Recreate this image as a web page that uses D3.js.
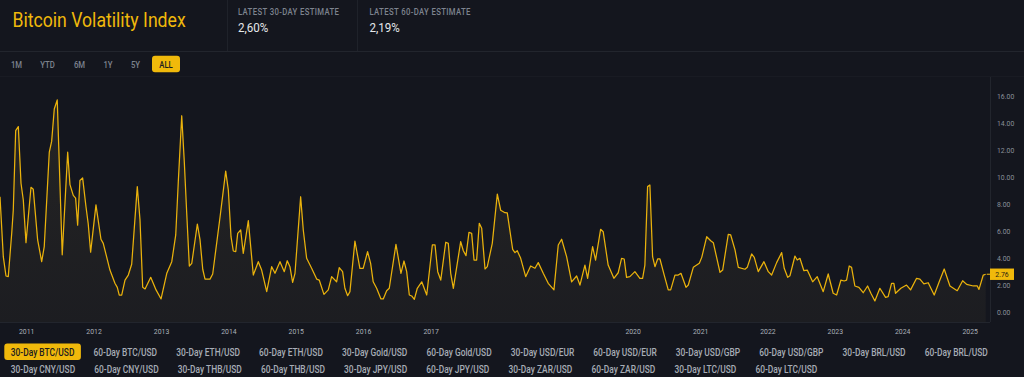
<!DOCTYPE html>
<html><head><meta charset="utf-8">
<script src="https://cdn.jsdelivr.net/npm/d3@7"></script>
<style>html,body{margin:0;padding:0;background:#14161e;overflow:hidden}</style>
</head><body><svg id="c" width="1024" height="377"></svg>
<script>
// ---- data (decimal year, 30-day volatility %) ----
const years = [2010.611,2010.660,2010.700,2010.734,2010.785,2010.808,2010.844,2010.883,2010.923,2010.957,2010.997,2011.071,2011.105,2011.170,2011.230,2011.268,2011.343,2011.378,2011.417,2011.461,2011.535,2011.616,2011.650,2011.699,2011.734,2011.764,2011.798,2011.838,2011.887,2011.921,2011.957,2012.036,2012.110,2012.144,2012.243,2012.317,2012.352,2012.381,2012.417,2012.466,2012.515,2012.565,2012.648,2012.688,2012.728,2012.763,2012.847,2012.926,2013.000,2013.085,2013.159,2013.218,2013.257,2013.307,2013.346,2013.381,2013.420,2013.456,2013.539,2013.579,2013.619,2013.653,2013.727,2013.767,2013.876,2013.960,2013.999,2014.039,2014.073,2014.109,2014.138,2014.183,2014.221,2014.296,2014.370,2014.444,2014.494,2014.569,2014.643,2014.692,2014.766,2014.830,2014.874,2014.914,2014.954,2014.989,2015.073,2015.112,2015.162,2015.236,2015.311,2015.349,2015.419,2015.483,2015.533,2015.607,2015.646,2015.696,2015.730,2015.771,2015.805,2015.879,2015.953,2016.002,2016.067,2016.112,2016.150,2016.201,2016.265,2016.299,2016.349,2016.388,2016.487,2016.561,2016.606,2016.646,2016.685,2016.720,2016.759,2016.803,2016.869,2016.943,2017.026,2017.066,2017.106,2017.151,2017.225,2017.263,2017.299,2017.338,2017.447,2017.486,2017.526,2017.570,2017.610,2017.645,2017.684,2017.723,2017.759,2017.808,2017.842,2017.916,2017.991,2018.041,2018.105,2018.139,2018.219,2018.253,2018.287,2018.338,2018.412,2018.486,2018.550,2018.599,2018.673,2018.747,2018.832,2018.896,2018.946,2019.020,2019.094,2019.169,2019.218,2019.292,2019.332,2019.406,2019.450,2019.525,2019.563,2019.637,2019.722,2019.786,2019.836,2019.875,2019.910,2019.959,2020.034,2020.108,2020.148,2020.182,2020.222,2020.256,2020.296,2020.331,2020.371,2020.405,2020.468,2020.528,2020.564,2020.627,2020.676,2020.716,2020.791,2020.825,2020.899,2020.988,2021.024,2021.098,2021.157,2021.196,2021.295,2021.335,2021.418,2021.454,2021.518,2021.567,2021.666,2021.700,2021.765,2021.804,2021.863,2021.948,2022.012,2022.062,2022.136,2022.211,2022.249,2022.300,2022.334,2022.408,2022.442,2022.482,2022.541,2022.591,2022.671,2022.739,2022.828,2022.902,2022.976,2023.027,2023.091,2023.140,2023.175,2023.214,2023.249,2023.298,2023.358,2023.422,2023.487,2023.536,2023.595,2023.669,2023.754,2023.792,2023.843,2023.877,2023.902,2023.981,2024.065,2024.125,2024.214,2024.263,2024.322,2024.386,2024.475,2024.549,2024.623,2024.708,2024.816,2024.896,2024.956,2025.054,2025.113,2025.138,2025.202,2025.238];
const vol30 = [8.5,4.06,2.63,2.58,5.8,7.5,13.4,13.7,9.5,8.26,5.1,9.2,9.05,5.3,3.7,4.8,11.8,12.6,15.0,15.67,4.2,11.8,9.4,8.6,8.4,6.4,9.7,9.9,7.8,6.5,4.4,7.9,5.35,5.05,3.07,2.09,1.79,1.22,1.22,2.33,2.7,3.5,9.25,6.8,1.79,1.67,2.53,1.6,0.93,2.83,3.69,5.67,9.7,14.5,11.0,7.3,3.37,3.57,6.48,5.3,3.13,2.4,2.4,2.78,7.0,10.4,9.0,5.54,4.48,4.43,5.79,6.04,4.3,6.73,2.7,3.69,3.07,1.47,3.32,2.83,3.69,2.95,3.76,3.32,2.16,2.83,8.5,6.04,3.94,3.2,2.4,2.33,1.27,1.6,2.58,2.2,3.25,2.95,1.72,1.17,1.47,5.22,3.2,3.2,4.43,3.57,2.2,1.72,0.93,0.93,1.54,1.72,4.98,2.83,3.74,2.95,1.22,1.15,0.9,1.72,2.2,1.22,4.93,4.93,2.95,2.33,5.13,5.05,2.83,1.72,5.17,4.5,4.14,5.87,5.79,3.81,3.81,6.53,6.16,3.15,3.32,5.05,8.7,7.5,7.32,7.3,4.6,4.36,4.5,3.94,2.58,3.37,3.2,3.62,2.83,2.09,1.6,4.93,5.35,4.06,2.2,2.63,1.96,3.44,2.46,4.8,3.81,6.09,5.91,3.44,2.46,2.87,3.94,3.89,2.53,2.58,2.95,2.46,2.46,3.44,9.25,9.37,4.06,3.32,3.89,3.89,2.7,1.6,1.6,2.7,2.7,2.83,1.79,1.96,3.27,3.57,4.01,5.54,5.24,5.1,2.9,3.07,5.72,5.67,4.56,3.27,3.13,3.27,4.26,4.01,2.95,3.69,2.95,2.7,3.62,4.36,3.2,2.53,2.65,4.11,3.81,3.94,3.02,3.07,2.2,2.58,1.47,2.78,1.35,1.22,2.33,2.26,2.33,3.37,3.27,1.89,1.79,1.39,1.89,1.35,0.78,1.72,1.05,1.1,2.09,2.09,1.35,1.72,1.96,1.6,2.46,2.4,2.04,2.13,1.22,2.2,3.15,1.89,1.54,2.28,2.01,1.89,1.89,1.64,2.7,2.76];
const xTickYears = [2011,2012,2013,2014,2015,2016,2017,2020,2021,2022,2023,2024,2025];
const yTicks = [0,2,4,6,8,10,12,14,16];
const rangeButtons = ["1M","YTD","6M","1Y","5Y","ALL"];
const activeRange = "ALL";
const estimateLabels = ["LATEST 30-DAY ESTIMATE","LATEST 60-DAY ESTIMATE"];
const estimateValues = ["2,60%","2,19%"];
const tabsRow1 = ["30-Day BTC/USD","60-Day BTC/USD","30-Day ETH/USD","60-Day ETH/USD","30-Day Gold/USD","60-Day Gold/USD","30-Day USD/EUR","60-Day USD/EUR","30-Day USD/GBP","60-Day USD/GBP","30-Day BRL/USD","60-Day BRL/USD"];
const tabsRow2 = ["30-Day CNY/USD","60-Day CNY/USD","30-Day THB/USD","60-Day THB/USD","30-Day JPY/USD","60-Day JPY/USD","30-Day ZAR/USD","60-Day ZAR/USD","30-Day LTC/USD","60-Day LTC/USD"];
const activeTab = "30-Day BTC/USD";
const title = "Bitcoin Volatility Index";

// ---- helpers ----
const toDate = t => { const y = Math.floor(t); const s = Date.UTC(y,0,1), e = Date.UTC(y+1,0,1); return new Date(s + (t-y)*(e-s)); };
const data = years.map((t,i)=>({date: toDate(t), v: vol30[i]}));
const GOLD = "#f0b90b", FONT = "Roboto, 'Noto Sans', sans-serif";
function cond(sel, f){ sel.each(function(){ const w=this.getComputedTextLength(); d3.select(this).attr("textLength", w*f).attr("lengthAdjust","spacingAndGlyphs"); }); }

const svg = d3.select("#c");
svg.append("rect").attr("width",1024).attr("height",377).attr("fill","#14161e");

// ---- header ----
const hdr = svg.append("g");
hdr.append("line").attr("x1",0).attr("x2",1024).attr("y1",51.5).attr("y2",51.5).attr("stroke","#22252d");
[227.5,357.5].forEach(x=>hdr.append("line").attr("x1",x).attr("x2",x).attr("y1",0).attr("y2",51).attr("stroke","#1f222a"));
hdr.append("text").attr("x",12.5).attr("y",26.5).attr("fill",GOLD).attr("font-family",FONT).attr("font-size",20.5).text(title).call(cond,0.86);
estimateLabels.forEach((l,i)=>{
  const x = [238,369.5][i];
  hdr.append("text").attr("x",x).attr("y",15).attr("fill","#7d838e").attr("font-family",FONT).attr("font-weight",500).attr("font-size",8.6).attr("letter-spacing",0.4).text(l).call(cond,0.9);
  hdr.append("text").attr("x",x).attr("y",31.5).attr("fill","#e6e8ea").attr("font-family",FONT).attr("font-size",13.5).text(estimateValues[i]).call(cond,0.86);
});
svg.append("line").attr("x1",0).attr("x2",1024).attr("y1",76.5).attr("y2",76.5).attr("stroke","#191b23");

// range buttons
const btnCenters = [16.5,47.5,79.5,108,135.5,166];
rangeButtons.forEach((b,i)=>{
  const g = svg.append("g");
  if(b===activeRange) g.append("rect").attr("x",btnCenters[i]-14).attr("y",55.7).attr("width",28).attr("height",16.6).attr("rx",3).attr("fill",GOLD);
  g.append("text").attr("x",btnCenters[i]).attr("y",67.6).attr("text-anchor","middle").attr("fill",b===activeRange?"#1a1b20":"#7d838e")
   .attr("font-family",FONT).attr("font-weight",500).attr("font-size",8.6).text(b).call(cond,0.9);
});

// ---- chart ----
const x = d3.scaleUtc().domain([toDate(2010.611), toDate(2025.302)]).range([0,990]);
const y = d3.scaleLinear().domain([0,16]).range([311.5,95.5]);

const defs = svg.append("defs");
const grad = defs.append("linearGradient").attr("id","fillg").attr("x1",0).attr("x2",0).attr("y1",0).attr("y2",1);
grad.append("stop").attr("offset","0%").attr("stop-color","#8a7a4a").attr("stop-opacity",0.14);
grad.append("stop").attr("offset","100%").attr("stop-color","#8a7a4a").attr("stop-opacity",0.07);
const clip = defs.append("clipPath").attr("id","pc");
clip.append("rect").attr("x",0).attr("y",78).attr("width",990).attr("height",244);

const plot = svg.append("g").attr("clip-path","url(#pc)");
plot.append("path").datum(data).attr("fill","url(#fillg)")
  .attr("d", d3.area().x(d=>x(d.date)).y0(322).y1(d=>y(d.v)).curve(d3.curveLinear));
plot.append("path").datum(data).attr("fill","none").attr("stroke","#eab20c").attr("stroke-width",1.25).attr("stroke-linejoin","round")
  .attr("d", d3.line().x(d=>x(d.date)).y(d=>y(d.v)).curve(d3.curveLinear));

// borders
svg.append("line").attr("x1",0).attr("x2",990).attr("y1",322.5).attr("y2",322.5).attr("stroke","#22252d");
svg.append("line").attr("x1",990.5).attr("x2",990.5).attr("y1",77).attr("y2",322).attr("stroke","#22252d");

// axes
const xa = svg.append("g").attr("transform","translate(0,322)")
  .call(d3.axisBottom(x).tickValues(xTickYears.map(yy=>toDate(yy))).tickFormat(d3.utcFormat("%Y")).tickSize(0).tickPadding(6));
xa.select(".domain").remove();
xa.selectAll("text").attr("fill","#aab0b9").attr("font-family",FONT).attr("font-size",7.8).call(cond,0.88);

const ya = svg.append("g").attr("transform","translate(990,0)")
  .call(d3.axisRight(y).tickValues(yTicks).tickFormat(d3.format(".2f")).tickSize(0).tickPadding(7));
ya.select(".domain").remove();
ya.selectAll("text").attr("fill","#8b919b").attr("font-family",FONT).attr("font-size",7.8).call(cond,0.88);

// last value label
const last = data[data.length-1];
svg.append("line").attr("x1",x(last.date)+1).attr("x2",990).attr("y1",y(last.v)).attr("y2",y(last.v)).attr("stroke",GOLD).attr("stroke-width",1);
svg.append("rect").attr("x",990).attr("y",y(last.v)-5.7).attr("width",24).attr("height",11.4).attr("fill",GOLD);
svg.append("text").attr("x",1002).attr("y",y(last.v)+2.8).attr("text-anchor","middle").attr("fill","#2a2412").attr("font-family",FONT).attr("font-size",7.8).text(d3.format(".2f")(last.v)).call(cond,0.88);

// ---- tabs ----
function drawRow(items, baseY){
  let left = 4.3;
  items.forEach(t=>{
    const g = svg.append("g");
    const active = t===activeTab;
    const rect = g.append("rect").attr("y",baseY-12.2).attr("height",16.7).attr("rx",3).attr("fill",active?GOLD:"none");
    const txt = g.append("text").attr("y",baseY).attr("text-anchor","middle").attr("fill",active?"#1a1b20":"#a7adb6")
      .attr("font-family",FONT).attr("font-weight",500).attr("font-size",10).text(t).call(cond,0.84);
    const w = +txt.attr("textLength");
    const bw = w + 13;
    rect.attr("x",left).attr("width",bw);
    txt.attr("x",left + bw/2);
    left += bw + 6.1;
  });
}
drawRow(tabsRow1, 355.6);
drawRow(tabsRow2, 372.6);
</script></body></html>
